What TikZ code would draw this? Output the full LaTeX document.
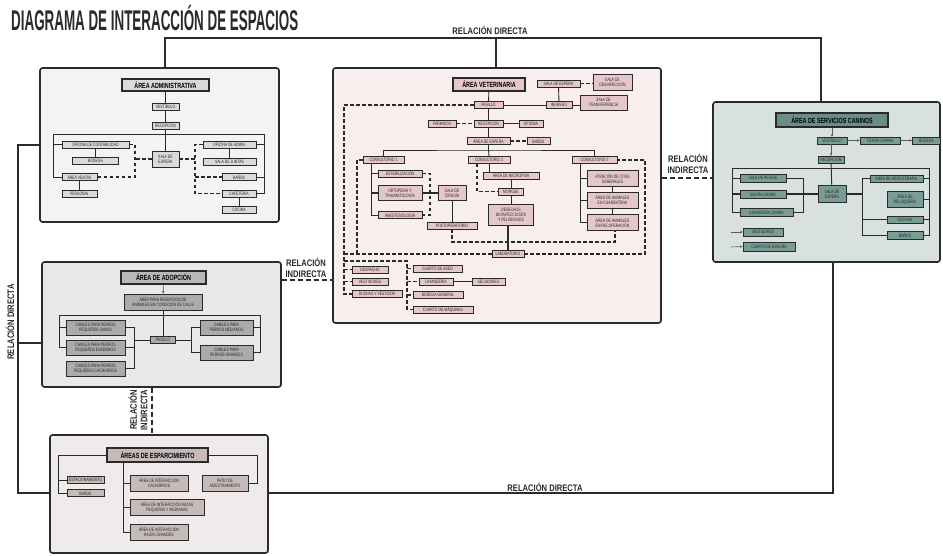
\documentclass[tikz,border=0pt]{standalone}
\usepackage{fontspec}
\setmainfont{Liberation Sans}
\newfontfamily\cond{Liberation Sans}[FakeStretch=0.72]
\newfontfamily\lblf{Liberation Sans}[FakeStretch=0.8]
\newfontfamily\titlef{Liberation Sans}[FakeStretch=0.47]
\usetikzlibrary{arrows.meta}
\definecolor{dk}{HTML}{2A2A2A}
\definecolor{adF}{HTML}{F3F3F1}
\definecolor{adB}{HTML}{DADADA}
\definecolor{aoF}{HTML}{E8E8E8}
\definecolor{aoB}{HTML}{ABABAB}
\definecolor{aoT}{HTML}{B8B8B8}
\definecolor{esF}{HTML}{EFEBEA}
\definecolor{esB}{HTML}{C7BABA}
\definecolor{vtF}{HTML}{F8EEEE}
\definecolor{vtB}{HTML}{E5C6CA}
\definecolor{svF}{HTML}{D9E1DF}
\definecolor{svB}{HTML}{7A9C96}
\definecolor{svT}{HTML}{6B8D87}
\newcommand{\mybox}[7][]{\node[box,minimum width=#5pt,minimum height=#6pt,#1] (#2) at (#3,#4) {#7};}
\begin{document}
\begin{tikzpicture}[x=1pt,y=-1pt,
  box/.style={draw=dk,line width=0.85pt,inner sep=0.4pt,align=center,font=\cond\fontsize{4.8}{5.1}\selectfont,text=black!85},
  ttl/.style={line width=1.4pt,font=\cond\bfseries\fontsize{7.5}{8}\selectfont,text=black},
  frame/.style={draw=dk,line width=1.6pt,rounded corners=2.5pt,inner sep=0},
  ln/.style={draw=dk,line width=0.9pt},
  thk/.style={draw=dk,line width=1.6pt},
  dsh/.style={draw=dk,line width=1.1pt,dash pattern=on 3.5pt off 2.5pt},
  conn/.style={draw=dk,line width=1.3pt},
  cdsh/.style={draw=dk,line width=1.7pt,dash pattern=on 5pt off 3pt},
  arr/.style={draw=gray!70!black,line width=0.6pt,-{Stealth[length=2.5pt,width=2.5pt]}},
  lbl/.style={font=\lblf\bfseries\fontsize{9.5}{10.5}\selectfont,text=dk,inner sep=0,align=center}]
\useasboundingbox[fill=white] (0,0) rectangle (943,555);

% title
\node[anchor=west,inner sep=0,text=dk,font=\titlef\bfseries\fontsize{28.5}{28.5}\selectfont] (title) at (11,18) {DIAGRAMA DE INTERACCIÓN DE ESPACIOS};

% frames
\node[frame,fill=adF,minimum width=239pt,minimum height=154pt] (admin) at (159.5,145) {};
\node[frame,fill=aoF,minimum width=239pt,minimum height=125pt] (adop) at (161.5,324.5) {};
\node[frame,fill=esF,minimum width=218pt,minimum height=118pt] (esp) at (159,494) {};
\node[frame,fill=vtF,minimum width=328pt,minimum height=255pt] (vet) at (497,195.5) {};
\node[frame,fill=svF,minimum width=227pt,minimum height=160pt] (serv) at (826.5,182) {};

% outer connectors
\coordinate (topL) at (165,38);
\coordinate (topR) at (821,38);
\coordinate (topV) at (496,38);
\draw[conn] (admin.north -| topL) -- (topL) -- (topR) -- (serv.north -| topR);
\draw[conn] (topV) -- (vet.north -| topV);
\coordinate (lt) at (18,145);
\coordinate (lb) at (18,493);
\coordinate (lm) at (18,343);
\draw[conn] (admin.west |- lt) -- (lt) -- (lb) -- (esp.west |- lb);
\draw[conn] (lm) -- (adop.west |- lm);
\coordinate (br) at (833,493);
\draw[conn] (esp.east |- br) -- (br) -- (serv.south -| br);
\coordinate (i1) at (0,280);
\draw[cdsh] (adop.east |- i1) -- (vet.west |- i1);
\coordinate (i2) at (152,0);
\draw[cdsh] (adop.south -| i2) -- (esp.north -| i2);
\coordinate (i3) at (0,178);
\draw[cdsh] (vet.east |- i3) -- (serv.west |- i3);

\node[lbl] (l1) at (490,30) {RELACIÓN DIRECTA};
\node[lbl] (l2) at (545,487) {RELACIÓN DIRECTA};
\node[lbl,rotate=90] (l3) at (10,322) {RELACIÓN DIRECTA};
\node[lbl] (l4) at (306,268) {RELACIÓN\\INDIRECTA};
\node[lbl] (l5) at (688,164) {RELACIÓN\\INDIRECTA};
\node[lbl,rotate=90] (l6) at (138,410) {RELACIÓN\\INDIRECTA};

% ===== ADMIN =====
\mybox[fill=adB,ttl]{adT}{165.5}{85}{87}{12}{ÁREA ADMINISTRATIVA}
\mybox[fill=adB]{adV}{165.5}{106.5}{27}{7}{VESTÍBULO}
\mybox[fill=adB]{adR}{165.5}{125.5}{27}{7}{RECEPCIÓN}
\mybox[fill=adB]{adE}{165.5}{159}{27}{16}{SALA DE\\ESPERA}
\mybox[fill=adB]{adC}{95.5}{144.5}{67}{7}{OFICINA DE CONTABILIDAD}
\mybox[fill=adB]{adBo}{95.5}{161}{46}{7}{BODEGA}
\mybox[fill=adB]{adVe}{79.5}{177}{35}{7}{ÁREA VENTAS}
\mybox[fill=adB]{adPe}{79.5}{193.5}{35}{7}{PERSONAL}
\mybox[fill=adB]{adA}{229.5}{144.5}{53}{7}{OFICINA DE ADMIN.}
\mybox[fill=adB]{adJ}{229.5}{161.5}{53}{7}{SALA DE JUNTAS}
\mybox[fill=adB]{adBa}{239}{177}{34}{7}{BAÑOS}
\mybox[fill=adB]{adCa}{239}{193.5}{34}{7}{CAFETERÍA}
\mybox[fill=adB]{adCo}{239}{209.5}{34}{7}{COCINA}
\draw[ln] (adT) -- (adV);
\draw[ln] (adV) -- (adR);
\draw[ln] (adR) -- (adE);
\coordinate (adL) at (53,134);
\coordinate (adRr) at (264,134);
\draw[ln] (adL |- adVe) -- (adL) -- (adRr) |- (adCa.east);
\draw[ln] (adL |- adC) -- (adC.west);
\draw[ln] (adL |- adVe) -- (adVe.west);
\draw[ln] (adRr |- adA) -- (adA.east);
\draw[ln] (adRr |- adBa) -- (adBa.east);
\draw[ln] (adC) -- (adBo);
\draw[ln] (adVe) -- (adPe);
\draw[ln] (adA) -- (adJ);
\draw[ln] (adCa) -- (adCo);
\coordinate (adDl) at (135,159);
\coordinate (adDr) at (195,159);
\draw[dsh] (adC.east) -- (adC.east -| adDl) -- (adVe.east -| adDl) -- (adVe.east);
\draw[dsh] (adE.west) -- (adDl);
\draw[dsh] (adE.east) -- (adDr);
\draw[dsh] (adA.west) -- (adA.west -| adDr) -- (adCa.west -| adDr) -- (adCa.west);
\draw[dsh] (adBa.west -| adDr) -- (adBa.west);

% ===== ADOPCION =====
\mybox[fill=aoT,ttl]{aoTi}{163.5}{277.5}{85}{13}{ÁREA DE ADOPCIÓN}
\mybox[fill=aoB]{aoRe}{163}{302}{78}{16}{ÁREA PARA RECEPCIÓN DE\\ANIMALES EN CONDICIÓN DE CALLE}
\mybox[fill=aoB]{aoC1}{95.5}{327.5}{59}{15}{CANILES PARA PERROS\\PEQUEÑOS SANOS}
\mybox[fill=aoB]{aoC2}{95.5}{347.5}{59}{15}{CANILES PARA PERROS\\PEQUEÑOS ENFERMOS}
\mybox[fill=aoB]{aoC3}{95.5}{368.5}{59}{15}{CANILES PARA PERROS\\PEQUEÑOS CACHORROS}
\mybox[fill=aoB]{aoPa}{163}{340}{25}{7}{PASILLO}
\mybox[fill=aoB]{aoM}{226.5}{327.5}{53}{15}{CANILES PARA\\PERROS MEDIANOS}
\mybox[fill=aoB]{aoG}{226.5}{352.5}{53}{15}{CANILES PARA\\PERROS GRANDES}
\draw[arr] (aoTi) -- (aoRe);
\draw[ln] (aoRe) -- (aoPa);
\coordinate (aoL) at (59,315);
\coordinate (aoR) at (260,315);
\draw[ln] (aoL |- aoC2) -- (aoL) -- (aoR) |- (aoG.east);
\draw[ln] (aoL |- aoC1) -- (aoC1.west);
\draw[ln] (aoL |- aoC2) -- (aoC2.west);
\draw[ln] (aoR |- aoM) -- (aoM.east);
\coordinate (aoX) at (134,340);
\draw[ln] (aoC1.east) -- (aoC1.east -| aoX) -- (aoC3.east -| aoX) -- (aoC3.east);
\draw[ln] (aoC2.east) -- (aoC2.east -| aoX);
\draw[ln] (aoX) -- (aoPa.west);
\coordinate (aoY) at (191,340);
\draw[ln] (aoPa.east) -- (aoY);
\draw[ln] (aoM.west) -- (aoM.west -| aoY) -- (aoG.west -| aoY) -- (aoG.west);

% ===== ESPARCIMIENTO =====
\mybox[fill=esB,ttl]{esTi}{157.5}{455}{101}{14}{ÁREAS DE ESPARCIMIENTO}
\mybox[fill=esB]{esEs}{85.5}{480}{37}{7}{ESTACIONAMIENTO}
\mybox[fill=esB]{esBa}{85.5}{493}{37}{7}{BAÑOS}
\mybox[fill=esB]{esPa}{225}{483}{46}{16}{PATIO DE\\ADIESTRAMIENTO}
\mybox[fill=esB]{esI1}{159}{483}{58}{16}{ÁREA DE INTERACCIÓN\\CACHORROS}
\mybox[fill=esB]{esI2}{167}{507}{74}{16}{ÁREA DE INTERACCIÓN RAZAS\\PEQUEÑAS Y MEDIANAS}
\mybox[fill=esB]{esI3}{159}{532}{58}{16}{ÁREA DE INTERACCIÓN\\RAZAS GRANDES}
\coordinate (esL) at (58,455);
\coordinate (esR) at (257,455);
\coordinate (esV) at (123,462);
\draw[ln] (esTi.west) -- (esL) |- (esBa.west);
\draw[ln] (esL |- esEs) -- (esEs.west);
\draw[ln] (esTi.east) -- (esR) |- (esPa.east);
\draw[ln] (esV |- esTi.south) -- (esV |- esI3) -- (esI3.west);
\draw[ln] (esV |- esI1) -- (esI1.west);
\draw[ln] (esV |- esI2) -- (esI2.west);

% ===== VETERINARIA =====
\mybox[fill=vtB,ttl]{vtT}{489}{84.5}{72}{13}{ÁREA VETERINARIA}
\mybox[fill=vtB]{vtEp}{558.5}{83.5}{43}{7}{SALA DE ESPERA}
\mybox[fill=vtB]{vtDs}{612.5}{82}{39}{16}{SALA DE\\DESINFECCIÓN}
\mybox[fill=vtB]{vtPa}{488.5}{105}{29}{7}{PASILLO}
\mybox[fill=vtB]{vtIn}{559}{105}{26}{7}{INGRESO}
\mybox[fill=vtB]{vtTr}{603.5}{102.5}{47}{15}{SALA DE\\TRANSFERENCIA}
\mybox[fill=vtB]{vtFa}{442}{123.5}{28}{7}{FARMACIA}
\mybox[fill=vtB]{vtRc}{488.5}{123.5}{29}{7}{RECEPCIÓN}
\mybox[fill=vtB]{vtOf}{531}{123.5}{24}{7}{OFICINA}
\mybox[fill=vtB]{vtSa}{488.5}{141}{43}{7}{ÁREA DE ESPERA}
\mybox[fill=vtB]{vtBa}{538.5}{141}{23}{7}{BAÑOS}
\mybox[fill=vtB]{vtC1}{383.5}{160}{41}{7}{CONSULTORIO 1}
\mybox[fill=vtB]{vtC2}{489}{160}{42}{7}{CONSULTORIO 2}
\mybox[fill=vtB]{vtC3}{594.5}{160}{45}{7}{CONSULTORIO 3}
\mybox[fill=vtB]{vtEs}{400}{173.5}{44}{7}{ESTERILIZACIÓN}
\mybox[fill=vtB]{vtOr}{400}{193}{44}{15}{ORTOPEDIA Y\\TRAUMATOLOGÍA}
\mybox[fill=vtB]{vtAn}{400}{215}{44}{7}{ANESTESIOLOGÍA}
\mybox[fill=vtB]{vtCi}{452}{193}{28}{15}{SALA DE\\CIRUGÍA}
\mybox[fill=vtB]{vtPo}{452}{225.5}{50}{7}{POSTOPERATORIO}
\mybox[fill=vtB]{vtNe}{511}{175.5}{56}{7}{ÁREA DE NECROPSIA}
\mybox[fill=vtB]{vtMo}{511}{191.5}{25}{7}{MORGUE}
\mybox[fill=vtB]{vtDe}{511}{214.5}{45}{21}{DESECHOS\\BIOINFECCIOSOS\\Y PELIGROSOS}
\mybox[fill=vtB]{vtLa}{508}{254}{32}{7}{LABORATORIO}
\mybox[fill=vtB]{vtAt}{612.5}{178.5}{51}{16}{ATENCIÓN DE CITAS\\GENERALES}
\mybox[fill=vtB]{vtCq}{612.5}{200}{51}{16}{ÁREA DE ANIMALES\\EN CUARENTENA}
\mybox[fill=vtB]{vtRe}{612.5}{222.5}{51}{16}{ÁREA DE ANIMALES\\EN RECUPERACIÓN}
\mybox[fill=vtB]{vtDp}{370}{269.5}{36}{7}{DESPACHO}
\mybox[fill=vtB]{vtVe}{370}{281.5}{36}{7}{VESTIDORES}
\mybox[fill=vtB]{vtDu}{377}{294}{50}{7}{DUCHAS Y VESTIDOR}
\mybox[fill=vtB]{vtAs}{437.5}{268.5}{49}{7}{CUARTO DE ASEO}
\mybox[fill=vtB]{vtLv}{436}{281.5}{34}{7}{LAVANDERÍA}
\mybox[fill=vtB]{vtSe}{488.5}{281.5}{33}{7}{SECADORES}
\mybox[fill=vtB]{vtBg}{438}{295}{50}{7}{BODEGA GENERAL}
\mybox[fill=vtB]{vtMq}{443}{309.5}{60}{7}{CUARTO DE MÁQUINAS}

\draw[ln] (vtT) -- (vtPa);
\draw[ln] (vtPa) -- (vtRc);
\draw[ln] (vtRc) -- (vtSa);
\coordinate (vb) at (488.5,150);
\draw[ln] (vtSa) -- (vb);
\draw[ln] (vtC1.north) |- (vb) -| (vtC3.north);
\draw[ln] (vb) -- (vtC2.north);
\draw[ln] (vtPa) -- (vtIn);
\draw[ln] (vtEp) -- (vtIn);
\draw[ln] (vtIn.east) -- (vtIn.east -| vtTr.west);
\draw[dsh] (vtEp.east) -- (vtEp.east -| vtDs.west);
\draw[dsh] (vtFa) -- (vtRc);
\draw[ln] (vtRc) -- (vtOf);
\draw[dsh] (vtSa) -- (vtBa);
% consultorio 1
\coordinate (c1v) at (371,163.5);
\draw[ln] (c1v) -- (c1v |- vtAn) -- (vtAn.west);
\draw[ln] (c1v |- vtEs) -- (vtEs.west);
\draw[thk] (c1v |- vtOr) -- (vtOr.west);
\coordinate (c1d) at (430,173.5);
\draw[dsh] (vtEs.east) -- (c1d) -- (c1d |- vtAn) -- (vtAn.east);
\draw[thk] (vtOr) -- (vtCi);
\draw[ln] (vtCi) -- (vtPo);
% consultorio 2
\draw[ln] (vtC2.south) -- (vtC2.south |- vtNe.north);
\coordinate (c2d) at (477,163.5);
\draw[dsh] (c2d) -- (c2d |- vtMo) -- (vtMo.west);
\draw[ln] (vtNe) -- (vtMo);
\draw[ln] (vtMo) -- (vtDe);
\draw[thk] (vtDe.south -| vtLa) -- (vtLa.north);
% consultorio 3
\coordinate (c3v) at (580,163.5);
\draw[ln] (c3v) -- (c3v |- vtRe) -- (vtRe.west);
\draw[ln] (c3v |- vtAt) -- (vtAt.west);
\draw[ln] (c3v |- vtCq) -- (vtCq.west);
\draw[ln] (vtAt) -- (vtCq);
\draw[ln] (vtCq) -- (vtRe);
% dashed loops
\coordinate (vo) at (344,105);
\draw[dsh] (vtPa.west) -- (vo) -- (vo |- vtDu) -- (vtDu.west);
\draw[dsh] (vo |- vtDp) -- (vtDp.west);
\draw[dsh] (vo |- vtVe) -- (vtVe.west);
\draw[dsh] (vo |- vtLa) -- (vtLa.west);
\coordinate (vrt) at (645,254);
\draw[dsh] (vtLa.east) -- (vrt) |- (vtC3.east);
\coordinate (v2) at (357,160);
\draw[dsh] (vtC1.west) -- (v2) -- (v2 |- vtLa);
\coordinate (vi) at (452,242);
\coordinate (vi2) at (615,242);
\draw[dsh] (vtPo.south) -- (vi) -- (vi2) -- (vi2 |- vtRe.south);
\coordinate (vb1) at (344,261);
\coordinate (vb2) at (407,261);
\draw[dsh] (vb1) -- (vb2) -- (vb2 |- vtMq) -- (vtMq.west);
\draw[dsh] (vb2 |- vtAs) -- (vtAs.west);
\draw[dsh] (vb2 |- vtLv) -- (vtLv.west);
\draw[dsh] (vb2 |- vtBg) -- (vtBg.west);
\draw[ln] (vtLv) -- (vtSe);

% ===== SERVICIOS =====
\mybox[fill=svT,ttl]{svTi}{832}{120}{112}{14}{ÁREA DE SERVICIOS CANINOS}
\mybox[fill=svB]{svV}{832}{140.5}{30}{7}{VESTÍBULO}
\mybox[fill=svB]{svTc}{880}{140.5}{40}{7}{TIENDA CANINA}
\mybox[fill=svB]{svX}{926.5}{140.5}{28}{7}{BODEGA}
\mybox[fill=svB]{svR}{831}{159.5}{26}{7}{RECEPCIÓN}
\mybox[fill=svB]{svA}{763}{178}{46}{8}{SALA DE PESAJE}
\mybox[fill=svB]{svBb}{763}{194}{46}{8}{SALÓN CANINO}
\mybox[fill=svB]{svC}{766.5}{212}{53}{8}{GUARDERÍA CANINA}
\mybox[fill=svB]{svS}{832}{194}{28}{17}{SALA DE\\ESPERA}
\mybox[fill=svB]{svP}{896.5}{178.5}{53}{7}{ÁREA DE HIDROTERAPIA}
\mybox[fill=svB]{svE}{905}{199}{36}{16}{ÁREA DE\\PELUQUERÍA}
\mybox[fill=svB]{svD}{905}{219.5}{36}{7}{DUCHAS}
\mybox[fill=svB]{svBa}{905}{235}{36}{8}{BAÑOS}
\mybox[fill=svB]{svVe}{763}{232}{40}{8}{VESTIDORES}
\mybox[fill=svB]{svCB}{769}{246.5}{52}{9}{CUARTO DE BASURA}
\draw[arr] (svTi) -- (svV);
\draw[arr] (svV) -- (svTc);
\draw[arr] (svTc) -- (svX);
\draw[arr] (svV.south -| svR) -- (svR);
\draw[ln] (svR) -- (svS);
\coordinate (sbl) at (732,168);
\coordinate (sbr) at (929,168);
\draw[ln] (sbl |- svC) -- (sbl) -- (sbr) |- (svBa.east);
\draw[ln] (sbl |- svC) -- (svC.west);
\draw[ln] (sbl |- svA) -- (svA.west);
\draw[thk] (sbl |- svBb) -- (svBb.west);
\draw[ln] (sbr |- svP) -- (svP.east);
\draw[ln] (sbr |- svE) -- (svE.east);
\draw[ln] (sbr |- svD) -- (svD.east);
\coordinate (sx) at (803,194);
\draw[ln] (svA.east) -- (svA.east -| sx) -- (svC.east -| sx) -- (svC.east);
\draw[thk] (svBb) -- (svS);
\coordinate (sy) at (862,194);
\draw[thk] (svS.east) -- (sy);
\draw[ln] (svP.west) -- (svP.west -| sy) -- (svBa.west -| sy) -- (svBa.west);
\draw[ln] (sy |- svD) -- (svD.west);
\coordinate (sa1) at (731,232);
\coordinate (sa2) at (731,247);
\draw[arr] (sa1) -- (svVe.west);
\draw[arr] (sa2) -- (svCB.west);
\end{tikzpicture}
\end{document}
